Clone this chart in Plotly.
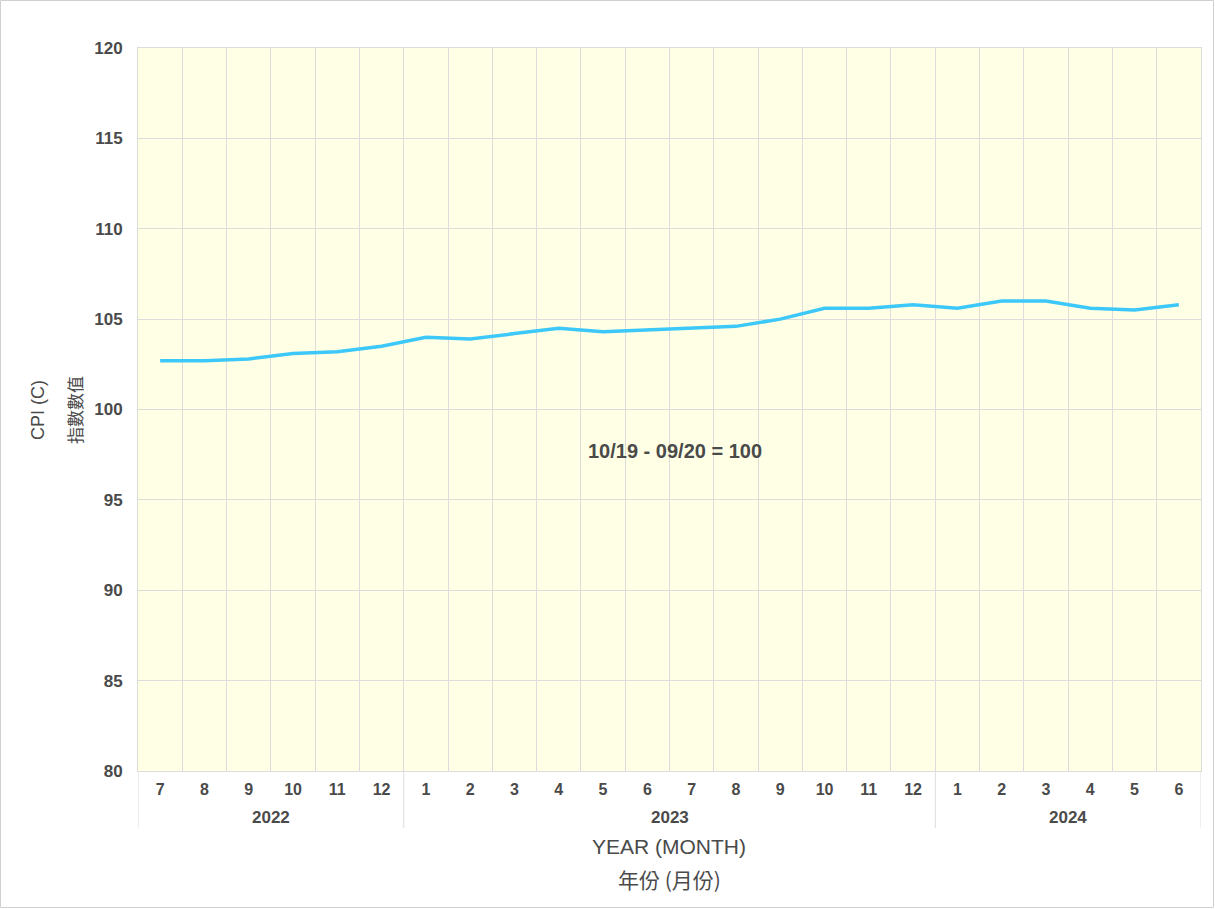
import plotly.graph_objects as go

years = ["2022"] * 6 + ["2023"] * 12 + ["2024"] * 6
months = ["7", "8", "9", "10", "11", "12",
          "1", "2", "3", "4", "5", "6", "7", "8", "9", "10", "11", "12",
          "1", "2", "3", "4", "5", "6"]
cpi = [102.7, 102.7, 102.8, 103.1, 103.2, 103.5,
       104.0, 103.9, 104.2, 104.5, 104.3, 104.4, 104.5, 104.6, 105.0, 105.6, 105.6, 105.8,
       105.6, 106.0, 106.0, 105.6, 105.5, 105.8]
y_ticks = [80, 85, 90, 95, 100, 105, 110, 115, 120]

idx = list(range(len(cpi)))
year_list = []
for y in years:
    if y not in year_list:
        year_list.append(y)
year_start = [years.index(y) for y in year_list]
year_end = [len(years) - 1 - years[::-1].index(y) for y in year_list]

font_main = "Liberation Sans, Arial, Noto Sans CJK TC, sans-serif"
txt_col = "#4a4a4a"
grid_col = "#DCDCDC"

fig = go.Figure()
fig.add_trace(go.Scatter(
    x=idx, y=cpi, mode="lines",
    line=dict(color="#3DC8FA", width=3.5),
    hoverinfo="y", showlegend=False,
))

W, H = 1215, 909
ml, mr, mt, mb = 138, 14, 48, 138
pw, ph = W - ml - mr, H - mt - mb

def py(pix):  # pixel row -> paper y
    return 1 - (pix - mt) / ph

def px(pix):  # pixel column -> paper x
    return (pix - ml) / pw

bold_fam = "Liberation Sans, Arial, sans-serif"
xtick_font = dict(size=16, color=txt_col, family=bold_fam, weight="bold")
ytick_font = dict(size=17, color=txt_col, family=bold_fam, weight="bold")
year_font = dict(size=17, color=txt_col, family=bold_fam, weight="bold")

def ann(text, x, y, size, fam=None, angle=0, xref="paper"):
    f = dict(size=size, color=txt_col)
    if fam:
        f["family"] = fam
    return dict(text=text, xref=xref, yref="paper", x=x, y=y, textangle=angle,
                xanchor="center", yanchor="middle", showarrow=False, font=f)

annotations = [
    ann("<b>10/19 - 09/20 = 100</b>", px(675), py(451), 20, bold_fam),
    ann("YEAR (MONTH)", px(669), py(846), 21),
    ann("年份 (月份)", px(669), py(879), 21, "Noto Sans CJK TC, sans-serif"),
    ann("CPI (C)", px(38), py(410), 18, angle=-90),
    ann("指數數值", px(74), py(410), 17, "Noto Sans CJK TC, sans-serif", angle=-90),
]
for y, s, e in zip(year_list, year_start, year_end):
    a = ann(y, (s + e) / 2, py(817), 17, xref="x")
    a["font"] = year_font
    annotations.append(a)

shapes = [dict(
    type="rect", xref="paper", yref="paper",
    x0=-(ml - 0.5) / pw, x1=1 + (mr - 1.5) / pw,
    y0=-(mb - 1.5) / ph, y1=1 + (mt - 0.5) / ph,
    line=dict(color="#D0D0D0", width=1), layer="below",
)]
bounds = sorted(set([s - 0.5 for s in year_start] + [e + 0.5 for e in year_end]))
for b in bounds:
    shapes.append(dict(
        type="line", xref="x", yref="paper", x0=b, x1=b, y0=0, y1=py(828),
        line=dict(color=grid_col, width=1),
    ))

fig.update_layout(
    width=W, height=H,
    margin=dict(l=ml, r=mr, t=mt, b=mb),
    paper_bgcolor="white",
    plot_bgcolor="#FFFFE6",
    font=dict(family=font_main, color=txt_col),
    xaxis=dict(
        range=[-0.5, len(cpi) - 0.5],
        tickmode="array", tickvals=idx, ticktext=months,
        showgrid=False,
        minor=dict(tickmode="array", tickvals=[i + 0.5 for i in idx[:-1]],
                   showgrid=True, gridcolor=grid_col, gridwidth=1, ticks=""),
        tickfont=xtick_font, ticklabelstandoff=4,
        showline=True, linecolor=grid_col, linewidth=1, mirror=True,
        ticks="", zeroline=False, fixedrange=True,
    ),
    yaxis=dict(
        range=[80, 120], tickmode="array", tickvals=y_ticks,
        showgrid=True, gridcolor=grid_col, gridwidth=1,
        showline=True, linecolor=grid_col, linewidth=1, mirror=True,
        tickfont=ytick_font, ticklabelstandoff=11,
        ticks="", zeroline=False, fixedrange=True,
    ),
    annotations=annotations,
    shapes=shapes,
)

fig.write_html("out.html", config={"displayModeBar": False},
               post_script="document.body.style.margin='0';document.body.style.overflow='hidden';")
